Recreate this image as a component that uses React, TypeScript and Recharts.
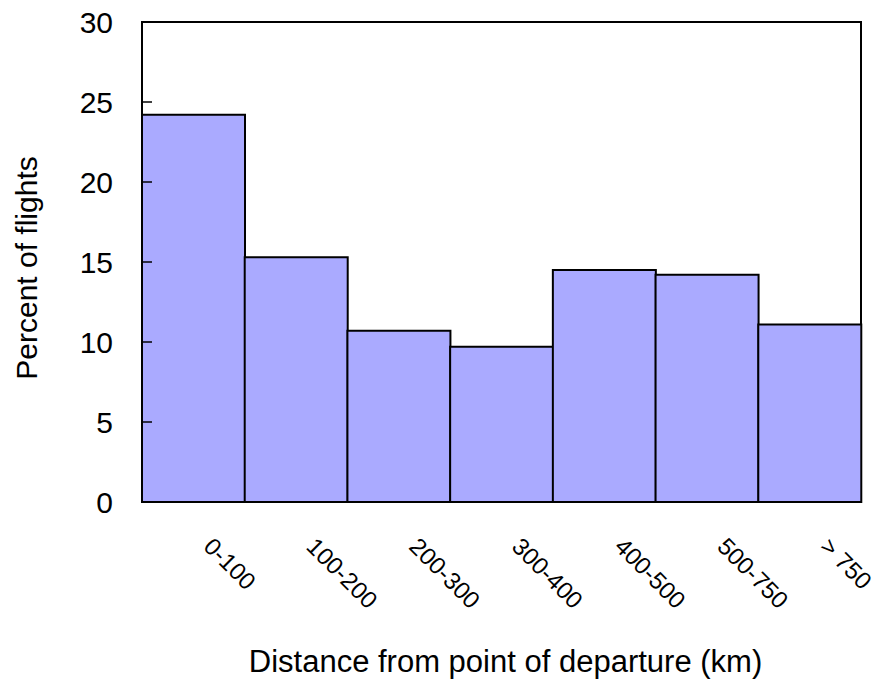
import { BarChart, Bar, XAxis, YAxis, ReferenceArea } from 'recharts';

// distance bands (km) and share of flights in each
const distanceBands = ['0-100', '100-200', '200-300', '300-400', '400-500', '500-750', '> 750'];
const flightPercents = [24.2, 15.3, 10.7, 9.7, 14.5, 14.2, 11.1];
const yTicks = [0, 5, 10, 15, 20, 25, 30];

const data = distanceBands.map((name, i) => ({ name, percent: flightPercents[i] }));

const FONT = '"Liberation Sans", Arial, sans-serif';

const YTick = (props: any) => {
  const { x, y, payload } = props;
  const v = payload.value;
  return (
    <g>
      {v > 0 && v < 30 && (
        <line x1={x + 29} x2={x + 39} y1={y} y2={y} stroke="#000" strokeWidth={1.5} />
      )}
      <text x={x} y={y + 11} textAnchor="end" fontSize={30} fontFamily={FONT} fill="#000">
        {v}
      </text>
    </g>
  );
};

const XTick = (props: any) => {
  const { x, y, payload } = props;
  const tx = x + 9;
  const ty = y + 46;
  return (
    <text
      x={tx}
      y={ty}
      transform={`rotate(45, ${tx}, ${ty})`}
      textAnchor="start"
      fontSize={24}
      fontFamily={FONT}
      fill="#000"
    >
      {payload.value}
    </text>
  );
};

export default function App() {
  return (
    <div style={{ position: 'absolute', left: 0, top: 0, background: '#fff' }}>
      <BarChart
        width={874}
        height={680}
        data={data}
        margin={{ top: 22, right: 13, bottom: 0, left: 0 }}
        barCategoryGap={0}
      >
        <XAxis
          dataKey="name"
          height={178}
          tickSize={0}
          tickMargin={0}
          tick={<XTick />}
          axisLine={{ stroke: '#000', strokeWidth: 2 }}
          tickLine={false}
          interval={0}
          label={{
            content: (p: any) => {
              const vb = p.viewBox;
              return (
                <text
                  x={vb.x + vb.width / 2 + 4}
                  y={vb.y + 170}
                  textAnchor="middle"
                  fontSize={31}
                  fontFamily={FONT}
                  fill="#000"
                >
                  Distance from point of departure (km)
                </text>
              );
            },
          }}
        />
        <YAxis
          domain={[0, 30]}
          ticks={yTicks}
          width={142}
          tickSize={0}
          tickMargin={29}
          tickLine={false}
          tick={<YTick />}
          axisLine={{ stroke: '#000', strokeWidth: 2 }}
          label={{
            content: (p: any) => {
              const vb = p.viewBox;
              const lx = 37;
              const ly = vb.y + vb.height / 2 + 6;
              return (
                <text
                  x={lx}
                  y={ly}
                  transform={`rotate(-90, ${lx}, ${ly})`}
                  textAnchor="middle"
                  fontSize={30}
                  fontFamily={FONT}
                  fill="#000"
                >
                  Percent of flights
                </text>
              );
            },
          }}
        />
        <Bar dataKey="percent" fill="#AAAAFF" stroke="#000" strokeWidth={2} isAnimationActive={false} />
        <ReferenceArea y1={0} y2={30} fill="none" fillOpacity={0} stroke="#000" strokeWidth={2} />
      </BarChart>
    </div>
  );
}
